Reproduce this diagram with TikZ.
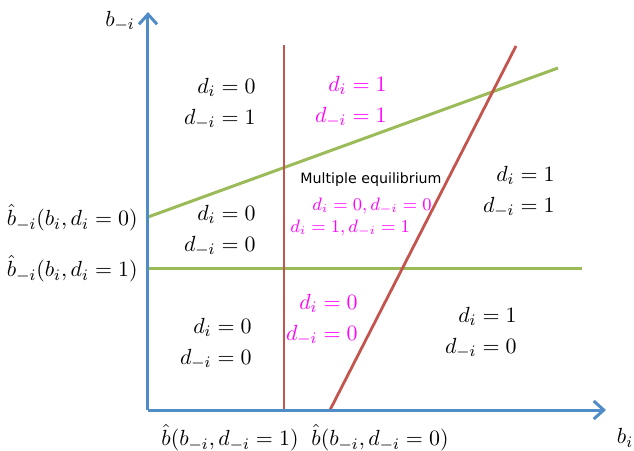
\documentclass[tikz,border=0pt]{standalone}
\usepackage{fontspec}
\newfontfamily\mefont{DejaVu Sans}
\usetikzlibrary{arrows.meta}
\definecolor{axblue}{RGB}{79,140,200}
\definecolor{lnred}{RGB}{196,84,78}
\definecolor{lngreen}{RGB}{155,187,89}
\definecolor{mag}{RGB}{255,0,255}
\tikzset{
  axis/.style={draw=axblue,line width=1.5pt,-{Straight Barb[length=5pt,width=9pt,line width=1.5pt]}},
  redln/.style={draw=lnred,line width=1.4pt},
  greenln/.style={draw=lngreen,line width=1.5pt},
  lbl/.style={font=\fontsize{10.9}{15.5}\selectfont,inner sep=0pt,align=right},
  mlbl/.style={lbl,text=mag},
  smlbl/.style={font=\fontsize{8.8}{11}\selectfont,inner sep=0pt,text=mag},
}
\begin{document}
\begin{tikzpicture}[x=0.5pt,y=-0.5pt]
\useasboundingbox (0,0) rectangle (634,451);
% coordinates
\coordinate (O) at (148,410);
\coordinate (Ytop) at (148,12);
\coordinate (Xend) at (606,410);
\coordinate (R1b) at (284,410);
\coordinate (R1t) at (284,45);
\coordinate (R2b) at (330,410);
\coordinate (R2t) at (516,46);
\coordinate (G1a) at (148,217);
\coordinate (G1b) at (558,68);
\coordinate (G2a) at (148,268);
\coordinate (G2b) at (582,268);
% lines
\draw[greenln] (G1a) -- (G1b);
\draw[greenln] (G2a) -- (G2b);
\draw[redln] (R1b) -- (R1t);
\draw[redln] (R2b) -- (R2t);
\draw[axis] (O) -- (Ytop);
\draw[axis] (O) -- (Xend);
% axis labels
\node[lbl] (by) at (120,21) {$b_{-i}$};
\node[lbl] (bx) at (625,438) {$b_i$};
\node[lbl,anchor=east] (h0) at (138,218) {$\hat b_{-i}(b_i,d_i=0)$};
\node[lbl,anchor=east] (h1) at (138,269) {$\hat b_{-i}(b_i,d_i=1)$};
\node[lbl] (v1) at (230,438) {$\hat b(b_{-i},d_{-i}=1)$};
\node[lbl] (v0) at (380,438) {$\hat b(b_{-i},d_{-i}=0)$};
% region labels
\node[lbl,anchor=east] (r1) at (256,104) {$d_i=0$\\$d_{-i}=1$};
\node[mlbl,anchor=east] (r2) at (387,102) {$d_i=1$\\$d_{-i}=1$};
\node[font=\mefont\fontsize{7.1}{9}\selectfont,inner sep=0pt] (me) at (371,180) {Multiple equilibrium};
\node[smlbl] (me1) at (372,206) {$d_i=0,d_{-i}=0$};
\node[smlbl,anchor=west] (me2) at (290,228) {$d_i=1,d_{-i}=1$};
\node[lbl,anchor=east] (r3) at (256,231) {$d_i=0$\\$d_{-i}=0$};
\node[lbl,anchor=east] (r4) at (555,192) {$d_i=1$\\$d_{-i}=1$};
\node[mlbl,anchor=east] (r5) at (358,320) {$d_i=0$\\$d_{-i}=0$};
\node[lbl,anchor=east] (r6) at (252,344) {$d_i=0$\\$d_{-i}=0$};
\node[lbl,anchor=east] (r7) at (517,333) {$d_i=1$\\$d_{-i}=0$};
\end{tikzpicture}
\end{document}
